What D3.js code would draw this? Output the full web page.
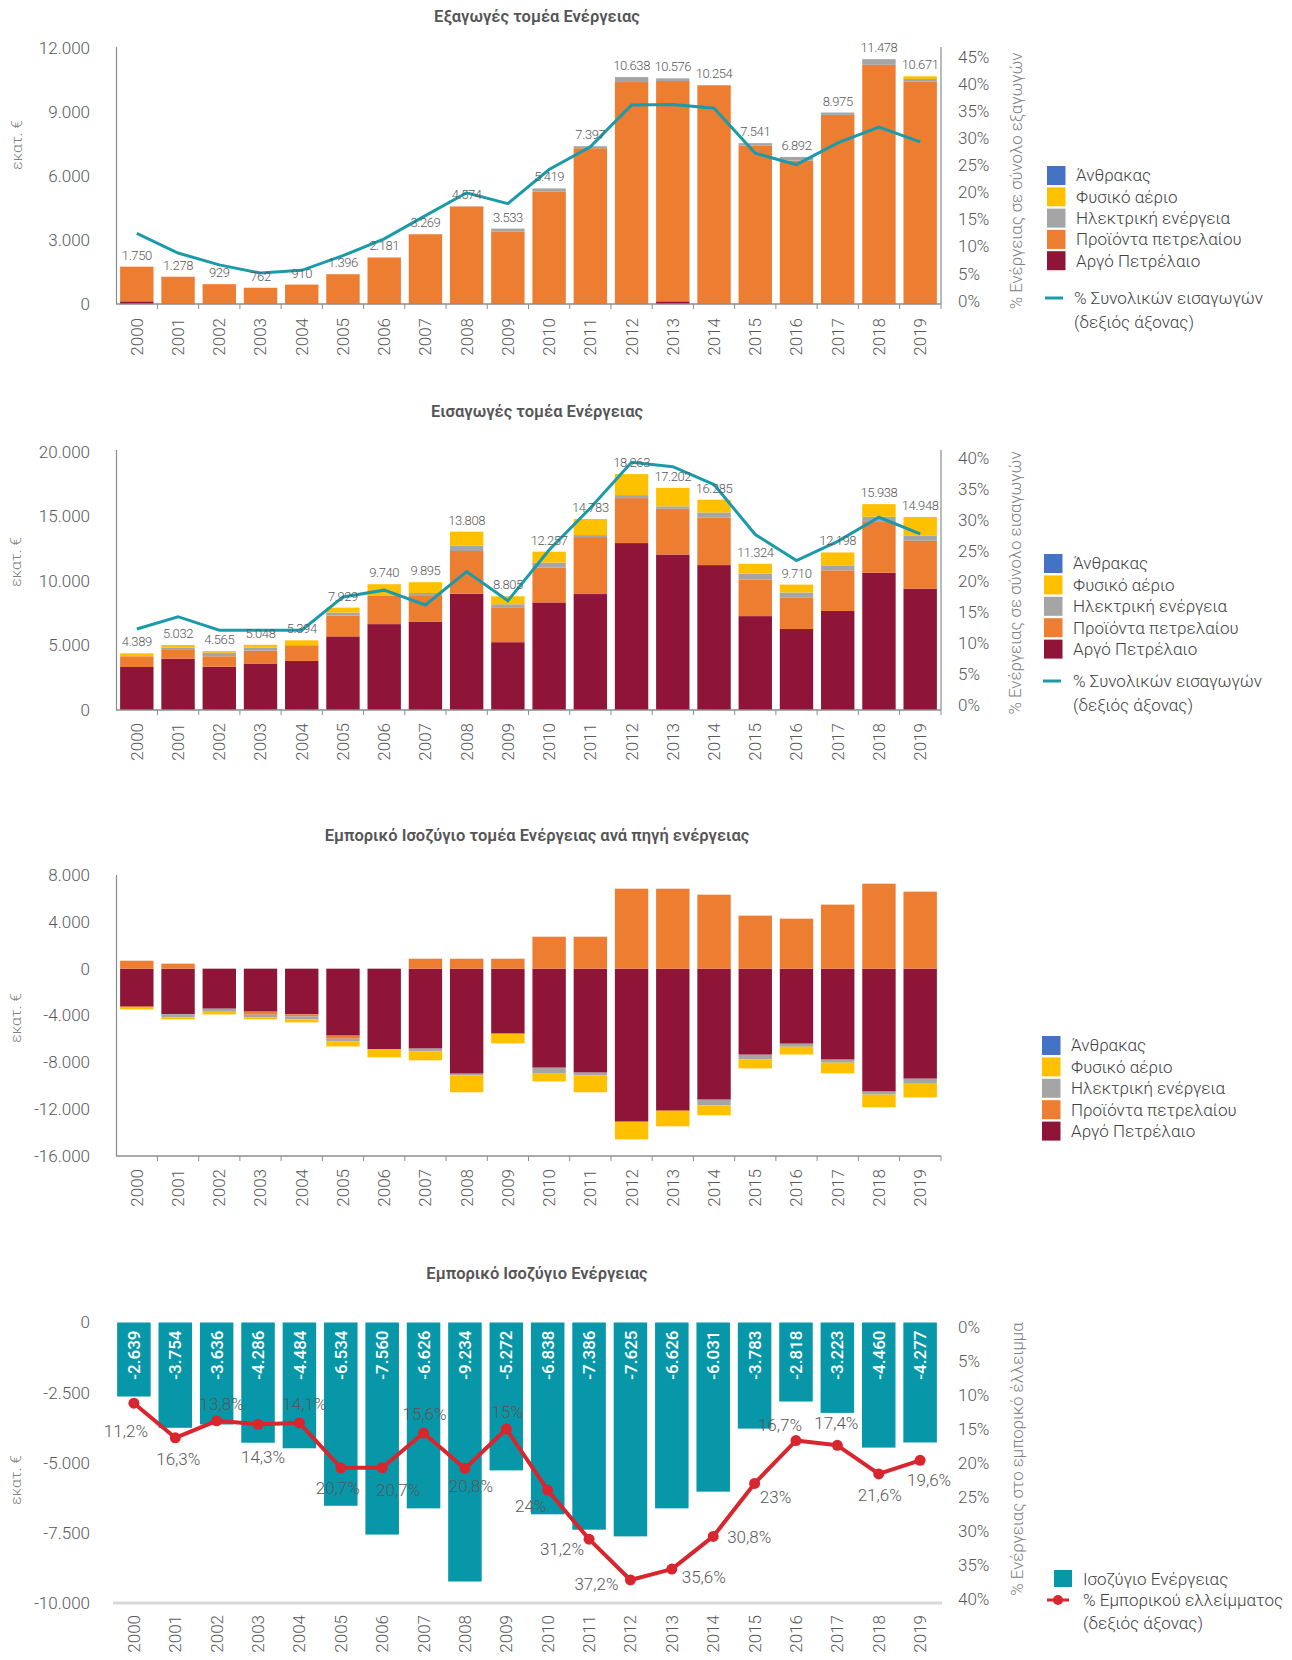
<!DOCTYPE html>
<html><head><meta charset="utf-8">
<script src="https://cdn.jsdelivr.net/npm/d3@7"></script>
<style>
body{margin:0;background:#fff}
svg{display:block}
text{font-family:Roboto,"Noto Sans",sans-serif;font-weight:300}
</style>
</head><body>
<svg id="c" width="1292" height="1660"></svg>
<script>
// ---------- DATA ----------
const years = ["2000","2001","2002","2003","2004","2005","2006","2007","2008","2009","2010","2011","2012","2013","2014","2015","2016","2017","2018","2019"];
const sourceKeys = ["crude","products","elec","gas","coal"];
const legendOrder = ["coal","gas","elec","products","crude"];
const legendNames = ["Άνθρακας","Φυσικό αέριο","Ηλεκτρική ενέργεια","Προϊόντα πετρελαίου","Αργό Πετρέλαιο"];

// Exports (εκατ. €)
const exportTotals   = [1750,1278,929,762,910,1396,2181,3269,4574,3533,5419,7397,10638,10576,10254,7541,6892,8975,11478,10671];
const exportCrude    = [125,0,0,0,0,0,0,0,0,0,0,0,0,125,0,0,0,0,0,0];
const exportProducts = [1625,1278,929,762,910,1396,2181,3269,4574,3393,5263,7303,10403,10326,10254,7431,6722,8865,11213,10436];
const exportElec     = [0,0,0,0,0,0,0,0,0,140,156,94,235,125,0,110,170,110,265,110];
const exportGas      = [0,0,0,0,0,0,0,0,0,0,0,0,0,0,0,0,0,0,0,125];
const exportCoal     = [0,0,0,0,0,0,0,0,0,0,0,0,0,0,0,0,0,0,0,0];
const exportShare    = [12.4,8.8,6.6,5.1,5.6,8.3,11.4,15.7,19.9,17.9,24.2,28.4,36.1,36.2,35.5,27.2,25.1,29.1,32.0,29.3];

// Imports (εκατ. €)
const importTotals   = [4389,5032,4565,5048,5394,7929,9740,9895,13808,8805,12257,14783,18263,17202,16285,11324,9710,12198,15938,14948];
const importCrude    = [3330,3970,3350,3600,3800,5700,6650,6850,9000,5250,8330,8978,12925,12040,11220,7270,6270,7670,10630,9400];
const importProducts = [830,680,810,990,1215,1615,2220,1980,3310,2705,2700,4412,3483,3545,3690,2830,2450,3145,3925,3700];
const importElec     = [0,180,280,230,0,230,0,230,413,232,385,155,232,180,385,460,380,385,410,385];
const importGas      = [229,202,125,228,379,384,870,835,1085,618,842,1238,1623,1437,990,764,610,998,973,1463];
const importCoal     = [0,0,0,0,0,0,0,0,0,0,0,0,0,0,0,0,0,0,0,0];
const importShare    = [12.3,14.3,12.1,12.1,12.1,17.5,18.6,16.2,21.6,16.9,25.1,31.9,39.3,38.6,35.7,27.6,23.4,26.5,30.4,27.7];

// Trade balance by source (εκατ. €)
const balCrude    = [-3250,-3900,-3420,-3670,-3900,-5720,-6890,-6830,-8970,-5550,-8460,-8880,-13070,-12130,-11190,-7350,-6410,-7770,-10500,-9400];
const balProducts = [680,430,0,-260,-170,-260,0,850,850,850,2730,2730,6830,6830,6320,4530,4270,5470,7260,6580];
const balElec     = [0,-260,-260,-230,-260,-230,0,-230,-140,0,-510,-230,0,0,-480,-400,-260,-260,-260,-430];
const balGas      = [-230,-170,-230,-170,-260,-430,-680,-770,-1450,-830,-660,-1450,-1510,-1340,-850,-770,-660,-910,-1080,-1170];
const balCoal     = [0,0,0,0,0,0,0,0,0,0,0,0,0,0,0,0,0,0,0,0];

// Energy trade balance and share of deficit
const energyBalance = [-2639,-3754,-3636,-4286,-4484,-6534,-7560,-6626,-9234,-5272,-6838,-7386,-7625,-6626,-6031,-3783,-2818,-3223,-4460,-4277];
const deficitShare  = [11.2,16.3,13.8,14.3,14.1,20.7,20.7,15.6,20.8,15,24,31.2,37.2,35.6,30.8,23,16.7,17.4,21.6,19.6];
// label placement (dx, dy) for deficit-share labels
const shareLabelOffset = [[-8,28],[3,21],[5,-17],[5,33],[5,-19],[-3,20],[16,22],[1,-19],[6,18],[1,-17],[-17,16],[-27,10],[-34,4],[32,8],[36,1],[21,14],[-16,-16],[-1,-22],[1,21],[9,20]];

// ---------- STYLE ----------
const colors = {crude:"#8E1538",products:"#ED7D31",elec:"#A5A5A5",gas:"#FFC000",coal:"#4472C4"};
const TEAL = "#1B9AAA", BAL = "#0797A8", RED = "#D8262E";
const AX = "#8c8c8c", TXT = "#595959", LEG = "#404040";

const loc = d3.formatLocale({decimal:",",thousands:".",grouping:[3],currency:["","€"],minus:"-"});
const fmt = loc.format(",.0f");
const pct = v => String(v).replace(".",",") + "%";

const svg = d3.select("#c");

function rows(arrs){
  return years.map((y,i)=>{
    const o={year:y};
    sourceKeys.forEach((k,j)=>o[k]=arrs[j][i]);
    return o;
  });
}
function xScale(r0,r1){
  return d3.scaleBand().domain(years).range([r0,r1]).paddingInner(0.19).paddingOuter(0.1);
}
function title(t,y){
  svg.append("text").attr("x",537).attr("y",y).attr("text-anchor","middle")
    .attr("dy","0.35em").style("font-size","16.5px").style("font-weight","600").attr("fill","#555").text(t);
}
function leftTitle(t,x,y){
  svg.append("text").attr("transform",`translate(${x},${y}) rotate(-90)`).attr("text-anchor","middle")
    .attr("dy","0.35em").style("font-size","15.5px").attr("fill","#808080").text(t);
}
function rightTitle(t,x,y){
  svg.append("text").attr("transform",`translate(${x},${y}) rotate(-90)`).attr("text-anchor","middle")
    .attr("dy","0.35em").style("font-size","16.8px").attr("fill","#808080").text(t);
}
function yTicks(scale,ticks,x,anchor,f){
  svg.append("g").selectAll("text").data(ticks).join("text")
    .attr("x",x).attr("y",d=>scale(d)).attr("dy","0.35em").attr("text-anchor",anchor)
    .style("font-size","17px").attr("fill",TXT).text(f);
}
function yearLabels(x,y0){
  svg.append("g").selectAll("text").data(years).join("text")
    .attr("transform",d=>`translate(${x(d)+x.bandwidth()/2},${y0}) rotate(-90)`)
    .attr("text-anchor","end").attr("dy","0.35em").style("font-size","17px").attr("fill",TXT).text(d=>d);
}
function xTickMarks(x,y0){
  const gap = x.step()-x.bandwidth();
  const pos = years.slice(1).map(d=>x(d)-gap/2);
  pos.push(x.range()[1]);
  svg.append("g").selectAll("line").data(pos).join("line")
    .attr("x1",d=>d).attr("x2",d=>d).attr("y1",y0).attr("y2",y0+5).attr("stroke",AX).attr("stroke-width",1);
}
function vline(x,y1,y2){ svg.append("line").attr("x1",x).attr("x2",x).attr("y1",y1).attr("y2",y2).attr("stroke",AX).attr("stroke-width",1.2); }
function hline(y,x1,x2){ svg.append("line").attr("x1",x1).attr("x2",x2).attr("y1",y).attr("y2",y).attr("stroke",AX).attr("stroke-width",1.4); }

function legendSources(x,y0,step,tx){
  legendOrder.forEach((k,i)=>{
    svg.append("rect").attr("x",x).attr("y",y0+i*step).attr("width",18.5).attr("height",19).attr("fill",colors[k]);
    svg.append("text").attr("x",tx).attr("y",y0+i*step+9.5).attr("dy","0.35em")
      .style("font-size","17px").attr("fill",LEG).text(legendNames[i]);
  });
}
function legendLine(x,y,tx,l1,l2){
  svg.append("line").attr("x1",x).attr("x2",x+18).attr("y1",y).attr("y2",y).attr("stroke",TEAL).attr("stroke-width",3);
  svg.append("text").attr("x",tx).attr("y",y).attr("dy","0.35em").style("font-size","17px").attr("fill",LEG).text(l1);
  svg.append("text").attr("x",tx).attr("y",y+24).attr("dy","0.35em").style("font-size","17px").attr("fill",LEG).text(l2);
}
function stackedPanel(o){
  const x = xScale(116,941);
  const y = d3.scaleLinear().domain(o.yDomain).range(o.yRange);
  const data = rows(o.arrs);
  const series = d3.stack().keys(sourceKeys).offset(d3.stackOffsetDiverging)(data);
  svg.append("g").selectAll("g").data(series).join("g").attr("fill",d=>colors[d.key])
    .selectAll("rect").data(d=>d).join("rect")
    .attr("x",d=>x(d.data.year)).attr("width",x.bandwidth())
    .attr("y",d=>y(Math.max(d[0],d[1]))).attr("height",d=>Math.abs(y(d[0])-y(d[1])));
  return {x,y,data};
}

// ================= PANEL 1 : EXPORTS =================
title("Εξαγωγές τομέα Ενέργειας",16);
{
  const p = stackedPanel({yDomain:[0,12000],yRange:[304,48],arrs:[exportCrude,exportProducts,exportElec,exportGas,exportCoal]});
  const yR = d3.scaleLinear().domain([0,45]).range([300.7,56.7]);
  vline(116.5,47,304); vline(941,47,304); hline(304,116,941);
  xTickMarks(p.x,304);
  yTicks(p.y,[0,3000,6000,9000,12000],90,"end",fmt);
  yTicks(yR,[0,5,10,15,20,25,30,35,40,45],958,"start",d=>d+"%");
  yearLabels(p.x,318);
  const cx = d=>p.x(d)+p.x.bandwidth()/2;
  svg.append("path").datum(exportShare).attr("fill","none").attr("stroke",TEAL).attr("stroke-width",3)
    .attr("d",d3.line().x((d,i)=>cx(years[i])).y(d=>yR(d)));
  svg.append("g").selectAll("text").data(exportTotals).join("text")
    .attr("x",(d,i)=>cx(years[i])).attr("y",d=>p.y(d)-7).attr("text-anchor","middle")
    .style("font-size","13px").style("letter-spacing","-0.4px").attr("fill",TXT).text(d=>fmt(d));
  leftTitle("εκατ. €",17,145);
  rightTitle("% Ενέργειας σε σύνολο εξαγωγών",1016,181);
  legendSources(1047,166,21.3,1076);
  legendLine(1045,298,1074,"% Συνολικών εισαγωγών","(δεξιός άξονας)");
}

// ================= PANEL 2 : IMPORTS =================
title("Εισαγωγές τομέα Ενέργειας",411);
{
  const p = stackedPanel({yDomain:[0,20000],yRange:[710,451.7],arrs:[importCrude,importProducts,importElec,importGas,importCoal]});
  const yR = d3.scaleLinear().domain([0,40]).range([705,458]);
  vline(116.5,450,710); vline(941,450,710); hline(710,116,941);
  xTickMarks(p.x,710);
  yTicks(p.y,[0,5000,10000,15000,20000],90,"end",fmt);
  yTicks(yR,[0,5,10,15,20,25,30,35,40],958,"start",d=>d+"%");
  yearLabels(p.x,723);
  const cx = d=>p.x(d)+p.x.bandwidth()/2;
  svg.append("path").datum(importShare).attr("fill","none").attr("stroke",TEAL).attr("stroke-width",3)
    .attr("d",d3.line().x((d,i)=>cx(years[i])).y(d=>yR(d)));
  svg.append("g").selectAll("text").data(importTotals).join("text")
    .attr("x",(d,i)=>cx(years[i])).attr("y",d=>p.y(d)-7).attr("text-anchor","middle")
    .style("font-size","13px").style("letter-spacing","-0.4px").attr("fill",TXT).text(d=>fmt(d));
  leftTitle("εκατ. €",16,562);
  rightTitle("% Ενέργειας σε σύνολο εισαγωγών",1015,583);
  legendSources(1044,554,21.4,1073);
  legendLine(1043,681,1073,"% Συνολικών εισαγωγών","(δεξιός άξονας)");
}

// ================= PANEL 3 : BALANCE BY SOURCE =================
title("Εμπορικό Ισοζύγιο τομέα Ενέργειας ανά πηγή ενέργειας",835);
{
  const p = stackedPanel({yDomain:[-16000,8000],yRange:[1156,875],arrs:[balCrude,balProducts,balElec,balGas,balCoal]});
  vline(116.5,875,1156); hline(1156,116,941);
  xTickMarks(p.x,1156);
  yTicks(p.y,[8000,4000,0,-4000,-8000,-12000,-16000],90,"end",fmt);
  yearLabels(p.x,1169);
  leftTitle("εκατ. €",16,1018);
  legendSources(1042,1036,21.4,1071);
}

// ================= PANEL 4 : ENERGY TRADE BALANCE =================
title("Εμπορικό Ισοζύγιο Ενέργειας",1273);
{
  const x = xScale(113,941);
  const y = d3.scaleLinear().domain([-10000,0]).range([1603,1322.5]);
  const yR = d3.scaleLinear().domain([0,40]).range([1327,1599]);
  const cx = d=>x(d)+x.bandwidth()/2;
  svg.append("line").attr("x1",113).attr("x2",942).attr("y1",1603).attr("y2",1603).attr("stroke","#d9d9d9").attr("stroke-width",3);
  svg.append("g").selectAll("rect").data(energyBalance).join("rect")
    .attr("x",(d,i)=>x(years[i])).attr("width",x.bandwidth())
    .attr("y",y(0)).attr("height",d=>y(d)-y(0)).attr("fill",BAL);
  svg.append("g").selectAll("text").data(energyBalance).join("text")
    .attr("transform",(d,i)=>`translate(${cx(years[i])},${y(0)+8}) rotate(-90)`)
    .attr("text-anchor","end").attr("dy","0.36em").style("font-size","17px").style("font-weight","500")
    .attr("fill","#fff").text(d=>fmt(d));
  yTicks(y,[0,-2500,-5000,-7500,-10000],90,"end",fmt);
  yTicks(yR,[0,5,10,15,20,25,30,35,40],958,"start",d=>d+"%");
  yearLabels(x,1615);
  svg.append("path").datum(deficitShare).attr("fill","none").attr("stroke",RED).attr("stroke-width",4)
    .attr("stroke-linejoin","round").attr("d",d3.line().x((d,i)=>cx(years[i])).y(d=>yR(d)));
  svg.append("g").selectAll("circle").data(deficitShare).join("circle")
    .attr("cx",(d,i)=>cx(years[i])).attr("cy",d=>yR(d)).attr("r",5.5).attr("fill",RED);
  svg.append("g").selectAll("text").data(deficitShare).join("text")
    .attr("x",(d,i)=>cx(years[i])+shareLabelOffset[i][0]).attr("y",(d,i)=>yR(d)+shareLabelOffset[i][1])
    .attr("text-anchor","middle").attr("dy","0.35em").style("font-size","17px").attr("fill",TXT).text(d=>pct(d));
  leftTitle("εκατ. €",16,1480);
  rightTitle("% Ενέργειας στο εμπορικό έλλειμμα",1017,1459);
  svg.append("rect").attr("x",1054).attr("y",1570).attr("width",18).attr("height",17).attr("fill",BAL);
  svg.append("text").attr("x",1083).attr("y",1579).attr("dy","0.35em").style("font-size","17px").attr("fill",LEG).text("Ισοζύγιο Ενέργειας");
  svg.append("line").attr("x1",1047).attr("x2",1069).attr("y1",1600).attr("y2",1600).attr("stroke",RED).attr("stroke-width",3);
  svg.append("circle").attr("cx",1058).attr("cy",1600).attr("r",5).attr("fill",RED);
  svg.append("text").attr("x",1083).attr("y",1600).attr("dy","0.35em").style("font-size","17px").attr("fill",LEG).text("% Εμπορικού  ελλείμματος");
  svg.append("text").attr("x",1083).attr("y",1623).attr("dy","0.35em").style("font-size","17px").attr("fill",LEG).text("(δεξιός άξονας)");
}
</script>
</body></html>
